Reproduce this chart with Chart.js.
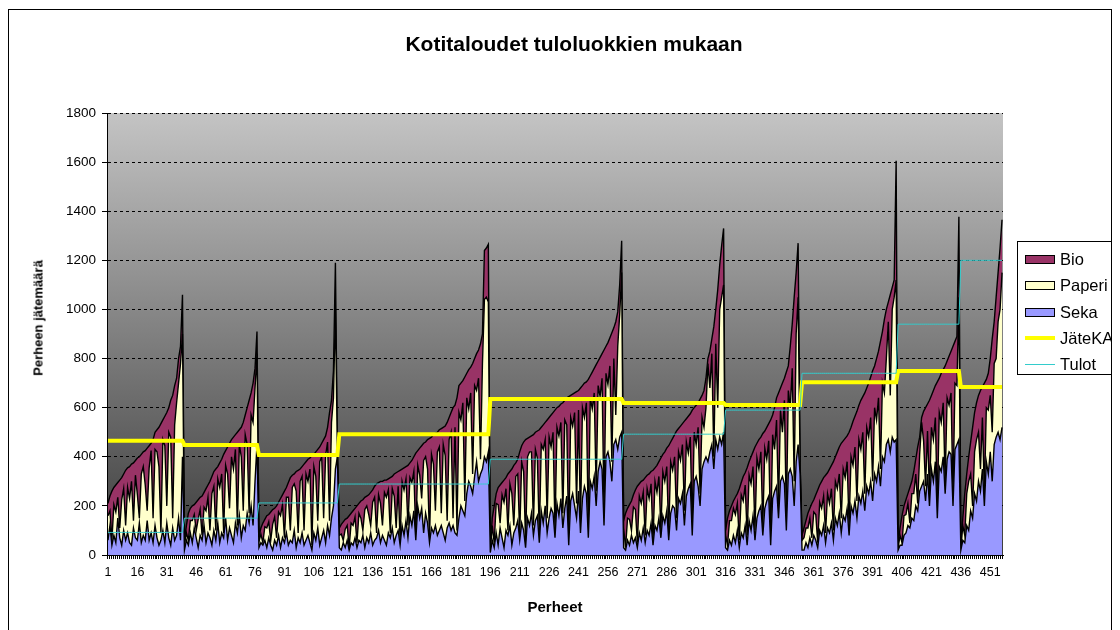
<!DOCTYPE html>
<html>
<head>
<meta charset="utf-8">
<script src="https://cdn.jsdelivr.net/npm/chart.js@4.4.1/dist/chart.umd.min.js"></script>
<style>
  body { margin: 0; background: #fff; font-family: "Liberation Sans", Arial, sans-serif; }
  #wrap { position: relative; width: 1120px; height: 630px; overflow: hidden; }
  #clip { position: absolute; left: 0; top: 0; width: 1111px; height: 630px; overflow: hidden; }
  #frame { position: absolute; left: 8px; top: 9px; width: 1102px; height: 640px; border: 1px solid #000; }
  #title { position: absolute; left: 14px; width: 1120px; top: 32px; text-align: center; font-weight: bold; font-size: 21px; }
  #ytitle { position: absolute; left: 38px; top: 318px; transform: translate(-50%, -50%) rotate(-90deg); font-weight: bold; font-size: 13px; white-space: nowrap; }
  #xtitle { position: absolute; left: 555px; top: 606px; transform: translate(-50%, -50%); font-weight: bold; font-size: 15px; }
  #legend { position: absolute; left: 1017px; top: 241px; width: 110px; height: 134px; border: 1px solid #000; background: #fff; box-sizing: border-box; }
  .li { position: absolute; left: 0; height: 20px; font-size: 16.5px; line-height: 20px; }
  .sw { position: absolute; left: 7px; width: 28px; height: 7px; border: 1px solid #000; top: 6px; }
  .ln { position: absolute; left: 7px; width: 30px; top: 9px; }
  .lt { position: absolute; left: 42px; top: 0; white-space: nowrap; }
</style>
</head>
<body>
<div id="wrap">
  <canvas id="c" width="1120" height="630"></canvas>
  <div id="title">Kotitaloudet tuloluokkien mukaan</div>
  <div id="ytitle">Perheen jätemäärä</div>
  <div id="xtitle">Perheet</div>
  <div id="clip"><div id="legend"></div></div>
  <div id="frame"></div>
</div>
<script>
// households per income class, in order
const groupSizes = [39, 38, 41, 77, 68, 52, 39, 49, 32, 22];
// class averages (step lines)
const groupJateKA = [465, 448, 407, 492, 635, 619, 611, 704, 749, 684];
const groupTulot = [92, 150, 212, 289, 390, 492, 590, 740, 940, 1200];

// waste per household, one line per income class
const seka = [
  60,120,40,80,50,150,70,40,100,60,90,50,40,110,70,60,130,50,80,60,140,60,90,50,120,70,40,60,100,50,130,70,40,110,60,80,150,60,400,
  20,60,40,90,50,110,70,30,80,60,120,50,90,70,40,100,60,130,50,90,70,150,60,110,80,50,130,90,160,70,120,100,170,130,200,120,300,450,
  30,50,40,60,30,70,40,20,60,40,80,30,70,50,90,40,60,50,100,30,70,50,90,40,60,80,50,20,90,60,110,40,70,100,50,120,80,150,200,350,400,
  30,20,50,30,60,20,50,40,70,30,60,50,80,30,70,50,90,40,60,70,100,50,80,60,40,90,70,110,50,80,100,40,120,80,140,70,160,120,180,60,
  200,150,190,90,170,130,50,110,90,120,80,100,120,90,60,110,130,100,120,90,80,150,200,180,160,250,300,280,250,320,380,300,330,350,400,380,420,
  10,60,30,90,40,110,70,30,100,80,120,40,90,110,140,60,130,100,30,150,120,170,80,140,160,50,180,130,200,90,150,190,170,70,210,160,230,110,190,240,
  40,220,250,200,150,260,90,230,280,250,70,300,270,320,200,340,380,350,120,400,420,380,300,450,470,430,480,500,
  30,20,60,40,80,50,70,30,90,60,110,50,100,80,130,40,120,100,150,70,160,130,180,60,170,200,190,100,230,210,250,120,240,270,290,80,300,320,280,200,350,380,400,380,420,450,350,470,430,480,450,500,
  30,20,60,40,80,50,100,30,90,70,120,40,140,100,160,60,150,180,200,80,190,220,240,40,230,260,280,150,300,320,290,100,330,350,320,200,380,450,330,
  20,20,50,30,70,40,80,60,30,100,80,120,50,110,90,130,60,150,120,170,90,160,140,190,80,200,170,220,150,240,210,260,180,280,250,300,220,330,300,360,280,400,380,450,470,420,480,460,470,
  20,40,40,80,90,120,110,150,140,200,180,260,280,300,220,330,200,350,300,380,150,360,340,400,250,390,420,410,200,430,450,470,
  20,60,50,120,100,180,150,250,220,300,260,350,200,380,330,420,300,450,480,500,470,520
];
const paperi = [
  100,60,20,125,125,85,40,185,170,60,185,180,260,30,255,185,20,280,280,225,40,295,335,100,310,350,320,30,370,395,70,430,440,40,470,540,550,720,500,
  20,30,20,50,90,55,30,115,105,20,75,130,145,30,210,180,40,180,225,240,20,215,270,80,320,300,300,30,290,330,60,390,280,40,370,420,380,370,
  25,35,10,55,80,65,20,105,95,30,95,130,135,20,145,195,40,225,190,230,20,250,230,60,270,220,300,20,270,260,30,340,330,50,355,340,60,390,440,650,20,
  50,65,10,75,60,10,80,80,85,20,110,100,20,155,130,115,30,175,175,20,145,160,40,195,195,175,20,160,190,30,180,20,180,185,170,50,155,175,160,20,
  165,175,40,295,230,220,10,300,280,60,340,340,50,360,345,30,340,400,30,430,20,430,350,440,60,390,295,380,80,370,290,420,60,430,640,670,610,
  5,60,20,120,165,20,175,185,170,20,170,210,30,210,190,20,250,240,20,250,300,250,40,290,235,30,270,300,270,60,330,250,330,30,310,325,310,60,360,290,
  20,340,275,380,60,330,40,370,280,370,30,340,325,340,60,350,265,370,60,340,275,390,80,350,100,420,500,650,
  80,10,90,105,20,145,115,20,150,150,145,30,170,150,160,20,180,155,170,30,180,170,180,30,210,145,210,50,190,175,200,60,220,145,190,40,200,130,240,50,210,140,200,400,260,370,50,390,170,520,600,600,
  50,20,80,100,110,115,110,30,155,150,165,40,185,190,200,40,245,170,220,40,245,170,225,20,260,170,270,50,290,180,340,50,340,250,440,100,520,600,40,
  40,50,60,80,80,30,95,105,20,115,110,120,40,140,120,140,40,150,150,160,60,190,175,190,40,200,195,220,70,230,220,240,70,240,230,260,80,270,250,280,70,300,280,350,480,230,520,590,650,
  10,40,10,80,75,90,20,100,110,130,30,150,260,165,60,175,50,170,170,180,50,220,200,220,50,250,190,250,40,270,240,580,
  5,60,30,130,200,150,50,170,250,200,90,210,50,220,260,230,200,330,320,450,530,630
];
const bio = [
  50,60,200,70,110,60,195,90,60,225,80,130,70,235,60,150,250,80,60,140,255,90,30,320,70,90,160,445,80,120,380,100,150,500,160,100,100,70,160,
  20,30,110,50,60,40,115,80,50,160,60,90,50,200,70,60,250,50,100,60,320,60,110,265,70,130,60,380,60,120,360,80,150,460,90,160,80,90,
  20,25,80,30,50,30,115,60,35,130,40,70,40,190,40,60,215,50,40,80,255,50,40,270,50,90,45,365,50,100,290,60,55,320,80,60,440,90,110,190,10,
  30,40,75,40,30,130,40,60,35,150,40,70,125,50,40,80,135,50,45,200,50,90,180,50,70,45,225,50,90,225,60,285,50,90,50,245,60,90,60,335,
  60,110,215,70,60,120,415,70,120,315,80,70,345,70,120,400,90,80,450,90,540,110,150,90,505,100,160,105,450,110,150,115,470,120,200,200,235,
  5,30,150,40,70,155,50,90,45,230,50,100,245,55,60,340,65,120,420,75,60,65,370,70,110,430,70,100,70,400,80,130,80,490,80,120,75,450,80,110,
  585,90,130,80,455,80,550,90,140,85,615,90,150,100,515,100,160,100,655,110,170,115,525,125,380,140,120,130,
  30,140,40,60,120,50,80,230,50,90,50,235,55,100,50,285,55,110,60,295,70,120,75,355,80,130,90,355,95,140,85,365,95,150,95,470,100,160,100,385,90,150,120,20,150,60,530,140,480,180,210,230,
  20,110,40,60,30,70,40,210,50,100,50,275,55,110,60,340,60,120,60,375,70,130,70,490,80,170,90,460,90,200,90,595,100,250,180,750,250,220,10,
  20,40,30,60,40,140,50,80,215,70,110,75,235,85,140,95,280,100,150,110,305,115,160,105,380,120,180,125,365,140,200,145,410,160,220,165,450,170,250,190,520,210,300,200,80,410,90,70,486,
  10,30,110,40,60,40,145,50,90,60,230,70,20,120,320,110,380,130,200,130,505,140,200,135,470,150,200,170,610,170,200,327,
  5,30,170,80,100,130,320,160,150,150,320,125,450,115,150,150,380,170,250,200,250,215
];

const labels = seka.map((v, i) => String(i + 1));

// step lines: every household carries the value of its class
const jateKA = [];
const tulot = [];
groupSizes.forEach((n, g) => {
  for (let k = 0; k < n; k++) { jateKA.push(groupJateKA[g]); tulot.push(groupTulot[g]); }
});

const bgPlugin = {
  id: 'plotBg',
  beforeDraw(chart) {
    const { ctx, chartArea: a } = chart;
    const g = ctx.createLinearGradient(0, a.top, 0, a.bottom);
    g.addColorStop(0, '#c4c4c4');
    g.addColorStop(1, '#3c3c3c');
    ctx.save();
    ctx.fillStyle = g;
    ctx.fillRect(a.left, a.top, a.right - a.left, a.bottom - a.top);
    ctx.restore();
  }
};

const font = { family: '"Liberation Sans", Arial, sans-serif', size: 13 };

new Chart(document.getElementById('c'), {
  type: 'line',
  data: {
    labels: labels,
    datasets: [
      { label: 'Seka', data: seka, stack: 'w', order: 2, fill: 'origin', backgroundColor: '#9999ff', borderColor: '#000', borderWidth: 1.4 },
      { label: 'Paperi', data: paperi, stack: 'w', order: 3, fill: 0, backgroundColor: '#ffffcc', borderColor: '#000', borderWidth: 1.4 },
      { label: 'Bio', data: bio, stack: 'w', order: 4, fill: 1, backgroundColor: '#993366', borderColor: '#000', borderWidth: 1.4 },
      { label: 'JäteKA', data: jateKA, stack: 'j', order: 1, fill: false, borderColor: '#ffff00', borderWidth: 4 },
      { label: 'Tulot', data: tulot, stack: 't', order: 0, fill: false, borderColor: '#33cccc', borderWidth: 1 }
    ]
  },
  options: {
    responsive: false,
    animation: false,
    elements: { point: { radius: 0 }, line: { tension: 0 } },
    layout: { padding: { left: 47, top: 113, right: 117, bottom: 45 } },
    plugins: { legend: { display: false }, tooltip: { enabled: false } },
    scales: {
      x: {
        stacked: true,
        offset: true,
        afterFit: s => { s.height = 30; },
        grid: { drawOnChartArea: false, drawTicks: true, tickLength: 4, color: '#000' },
        border: { color: '#000' },
        ticks: {
          autoSkip: false, maxRotation: 0, padding: 6, color: '#000', font: { ...font, size: 12.5 },
          callback: (v, i) => (i % 15 === 0 ? labels[i] : '')
        }
      },
      y: {
        stacked: true,
        min: 0, max: 1800,
        afterFit: s => { s.width = 60; },
        grid: { color: '#000', tickLength: 5 },
        border: { color: '#000', dash: [3, 3] },
        ticks: { stepSize: 200, padding: 6, color: '#000', font: { ...font, size: 13.5 }, callback: v => String(v) }
      }
    }
  },
  plugins: [bgPlugin]
});

// legend box
const legendItems = [
  { name: 'Bio', type: 'box', color: '#993366' },
  { name: 'Paperi', type: 'box', color: '#ffffcc' },
  { name: 'Seka', type: 'box', color: '#9999ff' },
  { name: 'JäteKA', type: 'line', color: '#ffff00', w: 4 },
  { name: 'Tulot', type: 'line', color: '#33cccc', w: 1 }
];
const leg = document.getElementById('legend');
legendItems.forEach((it, k) => {
  const row = document.createElement('div');
  row.className = 'li';
  row.style.top = (7 + k * 26.3) + 'px';
  row.style.width = '100%';
  const mark = document.createElement('div');
  if (it.type === 'box') {
    mark.className = 'sw';
    mark.style.background = it.color;
  } else {
    mark.className = 'ln';
    mark.style.borderTop = it.w + 'px solid ' + it.color;
    mark.style.top = (10 - it.w / 2) + 'px';
  }
  const t = document.createElement('div');
  t.className = 'lt';
  t.textContent = it.name;
  row.appendChild(mark);
  row.appendChild(t);
  leg.appendChild(row);
});
</script>
</body>
</html>
